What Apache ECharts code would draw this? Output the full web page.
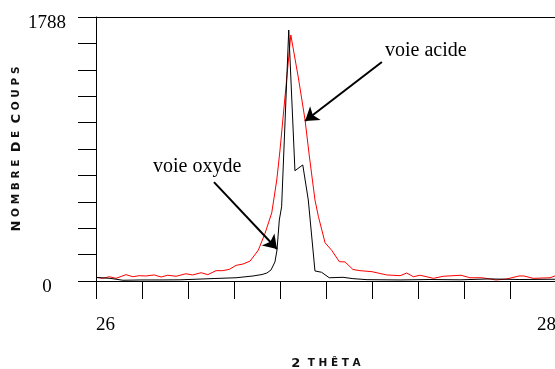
<!DOCTYPE html>
<html>
<head>
<meta charset="utf-8">
<script src="https://cdn.jsdelivr.net/npm/echarts@6/dist/echarts.min.js"></script>
<style>html,body{margin:0;padding:0;background:#fff}#c{width:555px;height:369px}</style>
</head>
<body>
<div id="c"></div>
<script>
// 2θ values and counts
const xAcide = [26.000,26.029,26.058,26.087,26.130,26.160,26.188,26.217,26.253,26.283,26.312,26.348,26.391,26.420,26.457,26.486,26.522,26.551,26.580,26.609,26.639,26.670,26.706,26.735,26.764,26.786,26.800,26.847,26.880,26.909,26.927,26.952,26.967,26.996,27.025,27.058,27.083,27.117,27.148,27.200,27.264,27.322,27.351,27.380,27.409,27.467,27.510,27.587,27.626,27.678,27.739,27.787,27.839,27.861,27.901,27.974,28.000];
const yAcide = [25,18,29,18,43,29,36,34,41,27,39,32,49,41,56,43,70,70,79,106,115,135,210,323,461,684,887,1666,1375,1090,853,549,436,259,207,131,129,78,70,63,41,36,54,29,39,18,32,39,22,22,7,14,34,34,18,22,37];
const xOxyde = [26.000,26.061,26.117,26.191,26.278,26.365,26.435,26.517,26.609,26.683,26.722,26.743,26.761,26.778,26.787,26.797,26.807,26.838,26.865,26.899,26.923,26.952,26.981,27.014,27.074,27.117,27.178,27.322,27.452,27.583,27.713,27.843,28.000];
const yOxyde = [24,18,5,7,7,8,12,17,22,34,44,54,75,129,210,413,503,1700,747,786,549,68,59,22,25,16,9,7,10,8,14,10,12];
const xTickLabels = ['26','28'];
const yTickLabels = ['0','1788'];
const xMin = 26, xMax = 28, xStep = 0.2;
const yMin = 0, yMax = 1788, yStep = 178.8;
const labelAcide = 'voie acide', labelOxyde = 'voie oxyde';
const arrowAcide = [[27.243,1483],[26.909,1084]];
const arrowOxyde = [[26.513,670],[26.787,217]];
const textAcidePos = [27.2565,1558];
const textOxydePos = [26.248,772];

const pair = (xs, ys) => xs.map((x,i)=>[x, ys[i]]);
const serif = 'Liberation Serif';
const sans = 'DejaVu Sans';
const chart = echarts.init(document.getElementById('c'), null, {renderer:'canvas'});
chart.setOption({
  animation:false,
  backgroundColor:'#fff',
  grid:{left:96, top:17, width:460, height:264, containLabel:false, outerBoundsMode:'none'},
  xAxis:[{
    type:'value', min:xMin, max:xMax, interval:xStep,
    name:'{a|2}  {b|T H Ê T A}', nameLocation:'middle', nameGap:76, nameMoveOverlap:false,
    nameTextStyle:{fontFamily:sans, fontWeight:'bold', fontSize:10.5, color:'#111',
      rich:{a:{fontFamily:sans, fontWeight:'bold', fontSize:13, color:'#111'},
            b:{fontFamily:sans, fontWeight:'bold', fontSize:10.5, color:'#111'}}},
    axisLine:{show:true, onZero:false, lineStyle:{color:'#000', width:1}},
    axisTick:{show:true, inside:false, length:18, lineStyle:{color:'#000', width:1}},
    splitLine:{show:false},
    axisLabel:{show:true, margin:35, fontFamily:serif, fontSize:19, color:'#000',
      alignMinLabel:'left', alignMaxLabel:'right', showMinLabel:true, showMaxLabel:true,
      formatter:v => Math.abs(v-xMin)<1e-6 ? xTickLabels[0] : (Math.abs(v-xMax)<1e-6 ? xTickLabels[1] : '')}
  },{
    type:'value', min:xMin, max:xMax, position:'top',
    axisLine:{show:true, onZero:false, lineStyle:{color:'#000', width:1}},
    axisTick:{show:false}, axisLabel:{show:false}, splitLine:{show:false}
  }],
  yAxis:{
    type:'value', min:yMin, max:yMax, interval:yStep,
    name:'{a|N} {b|O M B R E}  {a|D} {b|E}  {a|C} {b|O U P S}', nameLocation:'middle', nameGap:73, nameRotate:90, nameMoveOverlap:false,
    nameTextStyle:{fontFamily:sans, fontWeight:'bold', fontSize:10.5, color:'#111',
      rich:{a:{fontFamily:sans, fontWeight:'bold', fontSize:13, color:'#111'},
            b:{fontFamily:sans, fontWeight:'bold', fontSize:10.5, color:'#111'}}},
    axisLine:{show:true, lineStyle:{color:'#000', width:1}},
    axisTick:{show:true, inside:false, length:18, lineStyle:{color:'#000', width:1}},
    splitLine:{show:false},
    axisLabel:{show:true, margin:49, align:'center', color:'#000',
      showMinLabel:true, showMaxLabel:true,
      rich:{v:{fontFamily:serif, fontSize:19, color:'#000', padding:[13,0,0,0]}},
      formatter:v => Math.abs(v-yMin)<1e-6 ? '{v|'+yTickLabels[0]+'}' : (Math.abs(v-yMax)<0.5 ? '{v|'+yTickLabels[1]+'}' : '')}
  },
  series:[{
    type:'line', name:labelAcide, data:pair(xAcide,yAcide), showSymbol:false, symbol:'none',
    lineStyle:{color:'#ff0000', width:1}, clip:false, z:2,
    markLine:{silent:true, symbol:['none','arrow'], symbolSize:13, animation:false,
      lineStyle:{color:'#000', width:2, type:'solid'}, label:{show:false},
      data:[
        [{coord:arrowAcide[0]},{coord:arrowAcide[1]}],
        [{coord:arrowOxyde[0]},{coord:arrowOxyde[1]}]
      ]},
    markPoint:{silent:true, symbol:'circle', symbolSize:0, animation:false,
      label:{show:true, position:'right', distance:0, fontFamily:serif, fontSize:20, color:'#000', formatter:p=>p.name},
      data:[{name:labelAcide, coord:textAcidePos},{name:labelOxyde, coord:textOxydePos}]}
  },{
    type:'line', name:labelOxyde, data:pair(xOxyde,yOxyde), showSymbol:false, symbol:'none',
    lineStyle:{color:'#000', width:1}, clip:false, z:3
  }]
});
</script>
</body>
</html>
